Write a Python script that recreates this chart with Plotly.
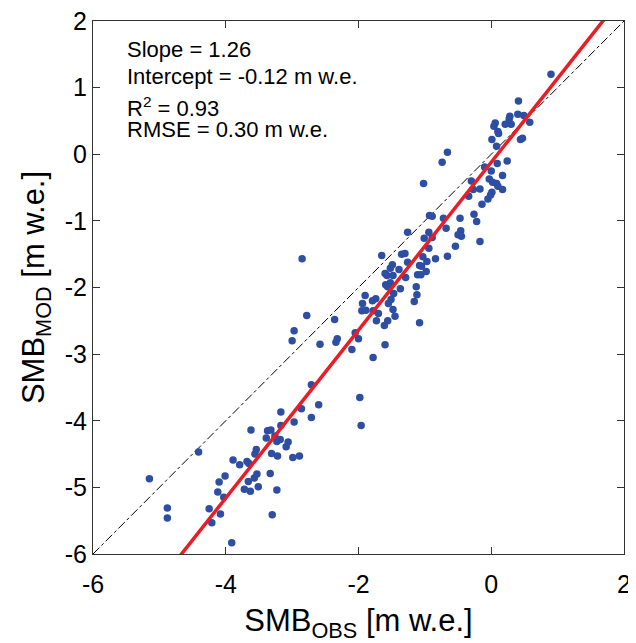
import plotly.graph_objects as go

smb_obs = [
    -5.15, -4.88, -4.88, -4.41, -4.25, -4.21, -4.08, -4.12, -4.10, -4.01, -4.03, -3.91,
    -3.89, -3.79, -3.68, -3.65, -3.72, -3.63, -3.66, -3.57, -3.53, -3.51, -3.62, -3.54,
    -3.56, -3.33, -3.30, -3.23, -3.31, -3.22, -3.39, -3.37, -3.32, -3.26, -3.23, -3.18,
    -3.17, -3.17, -3.09, -3.06, -2.99, -2.89, -2.97, -2.86,
    -2.71, -2.60, -2.71, -1.98, -1.96, -1.78, -2.10, -2.00, -2.05, -2.32, -2.34, -2.58,
    -2.36, -2.97, -3.00, -2.78, -2.85, -1.60,
    -1.65, -1.35, -1.30, -1.03, -0.84, -0.66, -0.54, -1.26, -1.08, -1.05, -0.97, -1.49,
    -1.52, -1.39, -1.60, -1.57, -1.48, -1.29, -1.06, -0.98, -1.11, -1.59, -1.52, -1.56,
    -1.37, -1.47, -1.13, -1.12, -1.16, -1.90, -1.94, -1.79, -1.74, -1.55, -1.51, -1.95,
    -1.89, -1.78, -1.70, -1.48, -1.73, -1.56, -1.45, -1.61, -1.08, -1.26, -1.01,
    -1.02, -0.66, -0.74, -0.93, -0.89, -0.72, -0.68, -0.47, -0.46, -0.50, -0.45, -0.94,
    -0.89, -0.94, -0.17, -0.26, -0.22,
    0.90, 0.41, 0.40, 0.49, 0.58, 0.28, 0.27, 0.21, 0.30, 0.06, 0.04, 0.10,
    0.11, 0.01, 0.08, 0.44, 0.47, 0.24, 0.09, -0.10, 0.00, 0.17, -0.03, 0.02,
    0.08, 0.10, 0.17, 0.01, -0.01, -0.05, -0.14, -0.17, -0.30, -0.27, -0.34,
]
smb_mod = [
    -4.87, -5.31, -5.46, -4.47, -5.32, -5.53, -5.40, -5.07, -4.92, -4.83, -5.15, -5.83,
    -4.59, -4.66, -4.61, -4.64, -5.03, -5.06, -4.91, -4.86, -4.80, -4.99, -4.14, -4.43,
    -4.50, -4.79, -5.41, -5.04, -4.49, -4.53, -4.26, -4.15, -4.14, -4.23, -4.31, -4.28,
    -4.07, -3.87, -4.39, -4.32, -4.55, -4.53, -4.02, -3.82,
    -3.95, -3.76, -3.46, -3.65, -4.07, -3.05, -2.93, -2.77, -2.68, -2.77, -2.82, -2.85,
    -2.48, -2.65, -2.80, -2.42, -1.57, -2.86,
    -1.52, -1.50, -1.49, -1.54, -1.57, -1.53, -1.38, -1.62, -1.67, -1.68, -1.61, -1.66,
    -1.71, -1.73, -1.79, -1.82, -1.82, -1.85, -1.81, -1.76, -1.81, -1.96, -1.93, -1.99,
    -2.02, -2.09, -1.99, -2.11, -2.21, -2.12, -2.24, -2.20, -2.17, -2.24, -2.18, -2.35,
    -2.34, -2.35, -2.39, -2.33, -2.50, -2.50, -2.43, -2.57, -2.53, -1.17, -1.26,
    -0.44, 0.03, -0.12, -0.92, -0.93, -0.96, -1.11, -0.96, -1.15, -1.21, -1.23, -1.17,
    -1.25, -1.41, -1.31, -0.90, -1.01,
    1.20, 0.80, 0.60, 0.58, 0.48, 0.57, 0.53, 0.45, 0.45, 0.47, 0.42, 0.34,
    0.31, 0.22, 0.12, 0.22, 0.24, -0.10, -0.14, -0.19, -0.25, -0.32, -0.37, -0.42,
    -0.44, -0.48, -0.53, -0.57, -0.61, -0.67, -0.75, -0.52, -0.40, -0.53, -0.63,
]

slope = 1.26
intercept = -0.12
r2 = 0.93
rmse = 0.30
axis_range = [-6, 2]
x_ticks = [-6, -4, -2, 0, 2]
y_ticks = [-6, -5, -4, -3, -2, -1, 0, 1, 2]

fig = go.Figure()

# 1:1 line
fig.add_trace(go.Scatter(
    x=axis_range, y=axis_range, mode="lines",
    line=dict(color="black", width=1, dash="dashdot"),
    hoverinfo="skip",
))

fig.add_trace(go.Scatter(
    x=smb_obs, y=smb_mod, mode="markers",
    marker=dict(color="#2d4ea3", size=7.5),
))

# regression line
fit_x = axis_range
fit_y = [slope * v + intercept for v in fit_x]
fig.add_trace(go.Scatter(
    x=fit_x, y=fit_y, mode="lines",
    line=dict(color="#ec1c24", width=3.5),
    hoverinfo="skip",
))

stats = [
    f"Slope = {slope:.2f}",
    f"Intercept = {intercept:.2f} m w.e.",
    f"R<sup>2</sup> = {r2:.2f}",
    f"RMSE = {rmse:.2f} m w.e.",
]
stat_y = [0.946, 0.896, 0.838, 0.796]
for txt, ty in zip(stats, stat_y):
    fig.add_annotation(
        x=0.06, y=ty, xref="paper", yref="paper",
        text=txt, showarrow=False, xanchor="left", yanchor="middle",
        font=dict(size=22, color="black"),
    )

axis_style = dict(
    range=axis_range, showgrid=False, zeroline=False, automargin=False,
    showline=True, linecolor="#333333", linewidth=1, mirror="ticks",
    ticks="inside", ticklen=7, tickcolor="#333333",
    ticklabeloverflow="allow",
    tickfont=dict(size=25, color="black"),
)

fig.update_xaxes(
    **axis_style, tickvals=x_ticks, ticktext=[str(t) for t in x_ticks], ticklabelstandoff=8,
    title=dict(text="SMB<sub>OBS</sub> [m w.e.]", font=dict(size=31, color="black"), standoff=12),
)
fig.update_yaxes(
    **axis_style, tickvals=y_ticks, ticktext=[str(t) for t in y_ticks],
    title=dict(text="SMB<sub>MOD</sub> [m w.e.]", font=dict(size=31, color="black"), standoff=10),
)

# the page body adds an 8 px offset, so the figure is 8 px smaller than the window
fig.update_layout(
    width=628, height=635,
    margin=dict(l=85, r=12, t=13, b=89),
    paper_bgcolor="white", plot_bgcolor="white",
    font=dict(family="Liberation Sans, Arial, sans-serif"),
    showlegend=False,
)

fig.write_html("out.html")
